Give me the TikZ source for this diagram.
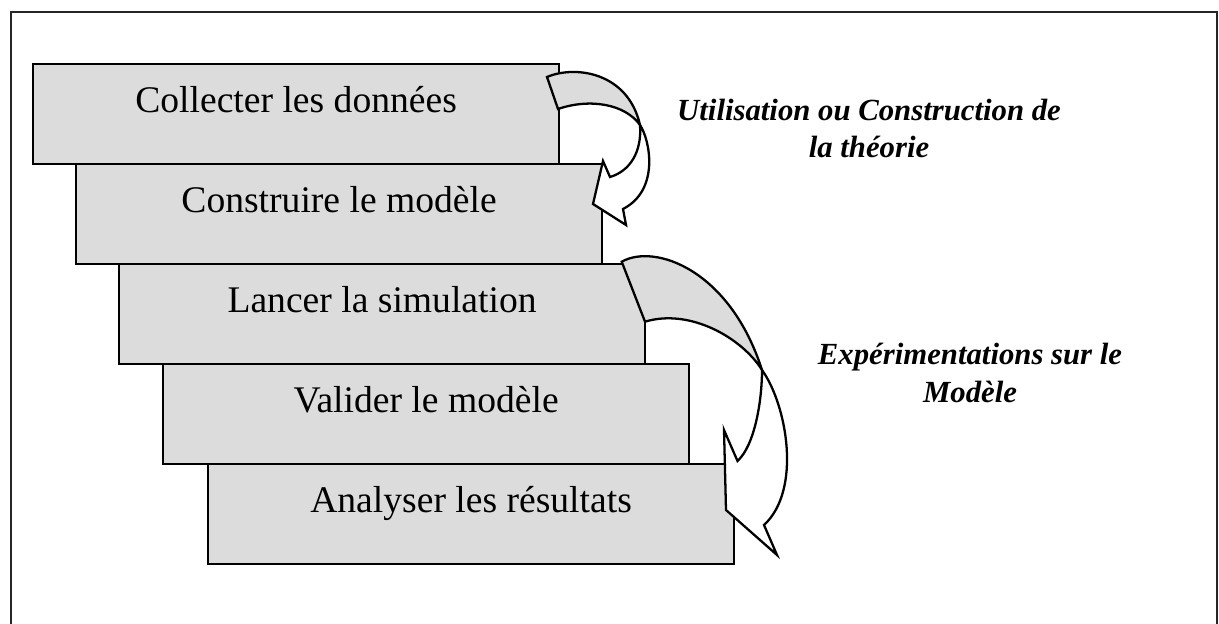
\documentclass[tikz,border=0pt]{standalone}
\usepackage{fontspec}
\setmainfont{Liberation Serif}
\definecolor{boxgray}{HTML}{DCDCDC}
\tikzset{
  stage/.style={draw=black, fill=boxgray, line width=1.3pt, rectangle,
    anchor=north west, inner sep=0pt, minimum width=10.52cm,
    text height=0.96cm, text depth=1.04cm, align=center,
    font=\fontsize{21.4}{25}\selectfont},
  back/.style={draw=black, fill=boxgray, line width=1.3pt, line join=miter},
  front/.style={draw=black, fill=white, line width=1.3pt, line join=miter},
  note/.style={align=center, anchor=base,
    font=\fontsize{17.5}{21.6}\selectfont\bfseries\itshape},
}
\begin{document}
\begin{tikzpicture}[x=0.02cm, y=-0.02cm]
  \useasboundingbox (0,0) rectangle (1219,624);
  % outer frame (open at the bottom)
  \draw[black!85, line width=1pt] (11,624) -- (11,12) -- (1217,12) -- (1217,624);

  % the five stages
  \node[stage] (s1) at (32,63)  {Collecter les données};
  \node[stage] (s2) at (75,163) {Construire le modèle};
  \node[stage] (s3) at (118,263) {Lancer la simulation};
  \node[stage] (s4) at (162,363) {Valider le modèle};
  \node[stage] (s5) at (207,463) {Analyser les résultats};

  % first curved arrow: tail, crossing point, shaft ends, head
  \coordinate (a1) at (547,77);
  \coordinate (b1) at (558,109);
  \coordinate (x1) at (640,125);
  \coordinate (p1) at (610,177);
  \coordinate (q1) at (623,209);
  \coordinate (h1) at (603,161);
  \coordinate (k1) at (626,225);
  \coordinate (t1) at (593,204);
  \path[back] (a1) .. controls (575,65) and (628,72) .. (x1)
    .. controls (625,104) and (590,98) .. (b1) -- cycle;
  \path[front] (x1) .. controls (650,140) and (660,190) .. (q1)
    -- (k1) -- (t1) -- (h1) -- (p1)
    .. controls (630,171) and (642,152) .. (x1) -- cycle;

  % second curved arrow
  \coordinate (a2) at (621.7,261.7);
  \coordinate (b2) at (645,321.7);
  \coordinate (x2) at (762,370);
  \coordinate (p2) at (737.5,461);
  \coordinate (q2) at (764,525);
  \coordinate (h2) at (724,430);
  \coordinate (k2) at (777,555);
  \coordinate (t2) at (726,510);
  \path[back] (a2) .. controls (655,243) and (730,270) .. (x2)
    .. controls (742,338) and (690,308) .. (b2) -- cycle;
  \path[front] (x2) .. controls (787,405) and (802,490) .. (q2)
    -- (k2) -- (t2) -- (h2) -- (p2)
    .. controls (755,445) and (762,400) .. (x2) -- cycle;

  % labels of the two arrows
  \node[note] (n1) at (869,158) {Utilisation ou Construction de\\la théorie};
  \node[note] (n2) at (970,402) {Expérimentations sur le\\Modèle};
\end{tikzpicture}
\end{document}
